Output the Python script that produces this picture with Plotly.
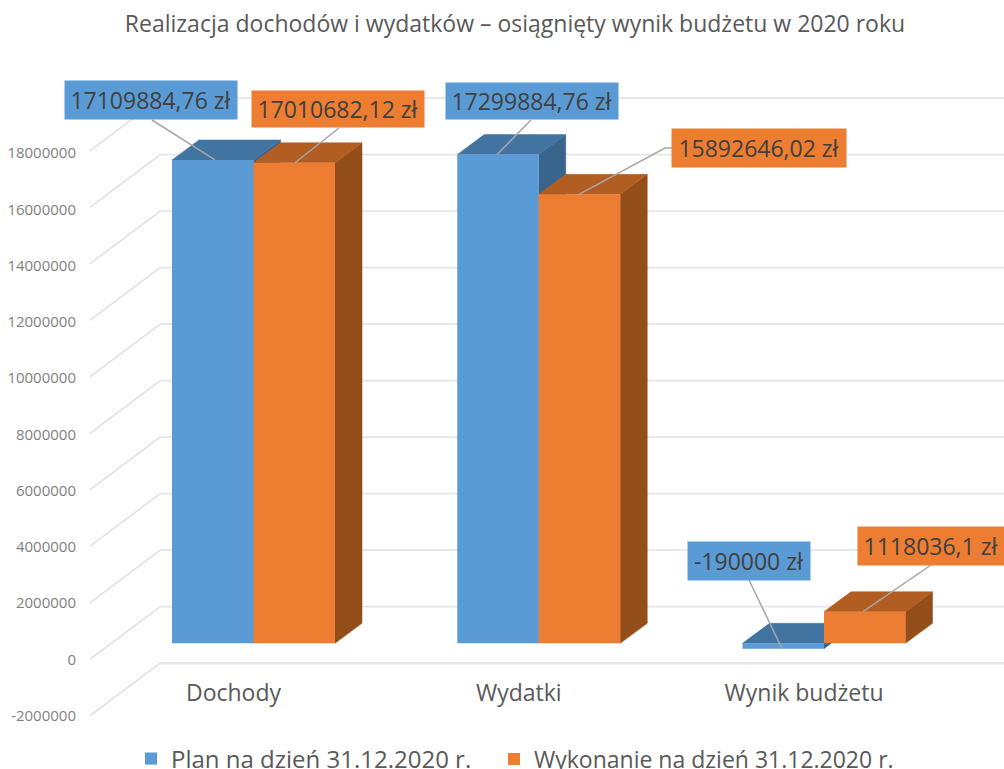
'''Realizacja dochodow i wydatkow - pseudo 3D bars like the Excel chart'''
import plotly.graph_objects as go

W, H = 1004, 769

categories = ["Dochody", "Wydatki", "Wynik budżetu"]
plan = [17109884.76, 17299884.76, -190000]
wykonanie = [17010682.12, 15892646.02, 1118036.1]
plan_labels = ["17109884,76 zł", "17299884,76 zł", "-190000 zł"]
wykonanie_labels = ["17010682,12 zł", "15892646,02 zł", "1118036,1 zł"]
tick_vals = [-2000000, 0, 2000000, 4000000, 6000000, 8000000, 10000000,
             12000000, 14000000, 16000000, 18000000]
series_names = ["Plan na dzień 31.12.2020 r.", "Wykonanie na dzień 31.12.2020 r."]

# scale of the picture: where the axes sit in pixels
X0_PX, CAT_PX = 253.5, 285.25
ZERO_PX, PX_PER_UNIT = 643.3, 28.25e-6
LABEL_ZERO_PX, LABEL_PX_PER_UNIT = 659.5, 28.13e-6
BAR_W = 81.5 / CAT_PX
DX, DY = 27 / CAT_PX, 20 / PX_PER_UNIT


def xu(px):
    return (px - X0_PX) / CAT_PX


def yu(py):
    return (ZERO_PX - py) / PX_PER_UNIT


fig = go.Figure()

# wall + floor grid lines
for v in tick_vals:
    fig.add_trace(go.Scatter(
        x=[xu(90), xu(160)], y=[v - 16 / PX_PER_UNIT, v + 36.6 / PX_PER_UNIT], mode="lines", yaxis="y",
        line=dict(color="#DCDCDC", width=1.3), showlegend=False, hoverinfo="skip", zorder=0))
    fig.add_trace(go.Scatter(
        x=[xu(160), xu(W)], y=[v + 36.6 / PX_PER_UNIT] * 2, mode="lines",
        line=dict(color="#E6E6E6", width=2.5 if v == tick_vals[0] else 1.8),
        showlegend=False, hoverinfo="skip", zorder=0))


def add_faces(values, left_side, top_col, side_col):
    for i, v in enumerate(values):
        x0 = i - BAR_W if left_side else i
        x1 = x0 + BAR_W
        t, b = max(v, 0), min(v, 0)
        fig.add_trace(go.Scatter(
            x=[x1, x1 + DX, x1 + DX, x1, x1], y=[t, t + DY, b + DY, b, t],
            mode="lines", fill="toself", fillcolor=side_col, line=dict(color=side_col, width=0.5),
            showlegend=False, hoverinfo="skip", zorder=1))
        fig.add_trace(go.Scatter(
            x=[x0, x1, x1 + DX, x0 + DX, x0], y=[t, t, t + DY, t + DY, t],
            mode="lines", fill="toself", fillcolor=top_col, line=dict(color=top_col, width=0.5),
            showlegend=False, hoverinfo="skip", zorder=1))


add_faces(plan, True, "#4274A1", "#39658C")
add_faces(wykonanie, False, "#B25E22", "#944E1A")

# front faces, one legend each so the two entries can be placed freely
fig.add_trace(go.Bar(x=[0, 1, 2], y=plan, name=series_names[0], legend="legend",
                     marker=dict(color="#5B9BD5", line_width=0), zorder=2))
fig.add_trace(go.Bar(x=[0, 1, 2], y=wykonanie, name=series_names[1], legend="legend2",
                     marker=dict(color="#ED7D31", line_width=0), zorder=2))

# only there so the tick label axis gets drawn
fig.add_trace(go.Scatter(x=[xu(90)] * len(tick_vals), y=tick_vals, yaxis="y2", mode="markers",
                         marker=dict(opacity=0), showlegend=False, hoverinfo="skip"))

# leader lines, from the bar tops to the boxes
leaders = [
    (plan[0], 215, [152], [120]), (wykonanie[0], 295, [339], [128]),
    (plan[1], 497, [531], [120]), (wykonanie[1], 579, [665, 672], [148, 148]),
    (plan[2], 782, [749], [580]), (wykonanie[2], 863, [931], [565]),
]
for v, px, xs, ys in leaders:
    fig.add_trace(go.Scatter(
        x=[xu(px)] + [xu(p) for p in xs], y=[v] + [yu(p) for p in ys], mode="lines",
        line=dict(color="#A6A6A6", width=1.5), showlegend=False, hoverinfo="skip", zorder=3))

# value boxes: text, left, top, right, bottom, colour
boxes = [
    (plan_labels[0], 65, 81, 237, 119, "#5B9BD5"),
    (wykonanie_labels[0], 252, 91, 424, 127, "#ED7D31"),
    (plan_labels[1], 446, 83, 618, 119, "#5B9BD5"),
    (wykonanie_labels[1], 672, 129, 846, 167, "#ED7D31"),
    (plan_labels[2], 688, 542, 810, 580, "#5B9BD5"),
    (wykonanie_labels[2], 858, 527, 1004, 565, "#ED7D31"),
]
for text, x0, y0, x1, y1, col in boxes:
    fig.add_annotation(
        text=text, xref="paper", yref="paper", x=(x0 + x1) / 2 / W, y=1 - (y0 + y1) / 2 / H,
        xanchor="center", yanchor="middle", showarrow=False, width=x1 - x0, height=y1 - y0,
        bgcolor=col, borderpad=0, font=dict(family="Open Sans", size=23, color="#404040"))

fig.update_layout(
    width=W, height=H,
    margin=dict(l=0, r=0, t=0, b=0, autoexpand=False),
    paper_bgcolor="white", plot_bgcolor="white",
    font=dict(family="Open Sans", color="#595959"),
    barmode="group", bargap=1 - 2 * BAR_W, bargroupgap=0,
    title=dict(text="Realizacja dochodów i wydatków – osiągnięty wynik budżetu w 2020 roku",
               x=515 / W, xanchor="center", y=1 - 24 / H, yanchor="middle",
               font=dict(family="Open Sans", size=23, color="#595959")),
    xaxis=dict(range=[xu(0), xu(W)], tickvals=[0, 1, 2], ticktext=categories, ticks="",
               showgrid=False, zeroline=False, showline=False, anchor="free", position=1 - 677 / H,
               ticklabelshift=-20, tickfont=dict(family="Open Sans", size=23, color="#595959")),
    yaxis=dict(range=[yu(H), yu(0)], showticklabels=False, showgrid=False, zeroline=False, showline=False),
    yaxis2=dict(range=[-(H - LABEL_ZERO_PX) / LABEL_PX_PER_UNIT, LABEL_ZERO_PX / LABEL_PX_PER_UNIT],
                overlaying="y", anchor="free", position=76 / W, side="left",
                tickvals=tick_vals, ticktext=[str(v) for v in tick_vals], ticks="",
                showgrid=False, zeroline=False, showline=False,
                tickfont=dict(family="Open Sans", size=15, color="#7F7F7F")),
    legend=dict(orientation="h", x=131 / W, xanchor="left", y=1 - 759 / H, yanchor="middle",
                font=dict(family="Open Sans", size=24, color="#595959"), bgcolor="rgba(0,0,0,0)"),
    legend2=dict(orientation="h", x=494 / W, xanchor="left", y=1 - 759 / H, yanchor="middle",
                 font=dict(family="Open Sans", size=23, color="#595959"), bgcolor="rgba(0,0,0,0)"),
)

fig.write_html("out.html", config={"displayModeBar": False},
               post_script="document.body.style.margin = '0';")
